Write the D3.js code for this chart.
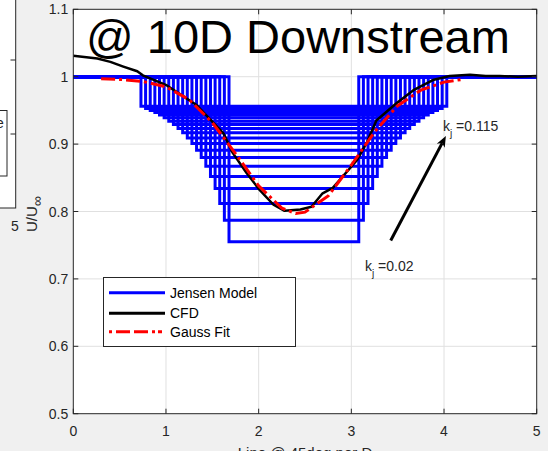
<!DOCTYPE html>
<meta charset="utf-8">
<style>
body { margin: 0; background: #f0f0f0; }
svg { display: block; font-family: "Liberation Sans", Arial, sans-serif; }
.grid line { stroke: #e0e0e0; stroke-width: 1px; }
.tick-label { fill: #262626; font-size: 14px; }
</style>
<script src="https://d3js.org/d3.v7.min.js"></script>
<body>
<svg id="chart"></svg>
<script>

var width = 548,
    height = 451;

// Jensen top-hat profiles, one per wake decay constant k_j
var kj = [0.020, 0.025, 0.030, 0.035, 0.040, 0.045, 0.050, 0.055, 0.060, 0.065,
          0.070, 0.075, 0.080, 0.085, 0.090, 0.095, 0.100, 0.105, 0.110, 0.115];
var jensenLeft  = [1.68, 1.63, 1.58, 1.53, 1.48, 1.43, 1.38, 1.33, 1.28, 1.23,
                   1.18, 1.13, 1.08, 1.03, 0.98, 0.93, 0.88, 0.83, 0.78, 0.73];
var jensenRight = [3.08, 3.13, 3.18, 3.23, 3.28, 3.33, 3.38, 3.43, 3.48, 3.53,
                   3.58, 3.63, 3.68, 3.73, 3.78, 3.83, 3.88, 3.93, 3.98, 4.03];
var jensenLevel = [0.755, 0.787, 0.812, 0.834, 0.852, 0.867, 0.880, 0.891, 0.901, 0.909,
                   0.917, 0.923, 0.929, 0.934, 0.939, 0.943, 0.947, 0.950, 0.953, 0.956];

// CFD profile
var cfdX = [0, 0.26, 0.40, 0.54, 0.69, 0.75, 1.01, 1.33, 1.62, 1.72, 1.87, 2.01, 2.16, 2.28,
            2.45, 2.57, 2.69, 2.80, 3.06, 3.17, 3.27, 3.49, 3.67, 3.88, 4.06, 4.28, 4.45, 4.60, 4.80, 5.0];
var cfdY = [1.031, 1.027, 1.022, 1.015, 1.008, 1.002, 0.987, 0.958, 0.916, 0.887, 0.857, 0.832, 0.810, 0.801,
            0.803, 0.807, 0.827, 0.835, 0.876, 0.903, 0.935, 0.961, 0.980, 0.995, 1.001, 1.003, 1.001, 1.001, 1.000, 1.001];

// Gauss fit
var gaussX = [0.3, 0.5, 0.75, 1.0, 1.25, 1.5, 1.75, 2.0, 2.25, 2.4, 2.5, 2.75, 3.0, 3.25, 3.5, 3.75, 4.0, 4.2];
var gaussY = [0.997, 0.996, 0.993, 0.985, 0.966, 0.932, 0.886, 0.838, 0.805, 0.797, 0.799, 0.823, 0.869, 0.918, 0.957, 0.980, 0.992, 0.996];

var xTicks = [0, 1, 2, 3, 4, 5];
var yTicks = [0.5, 0.6, 0.7, 0.8, 0.9, 1.0, 1.1];
var yTickLabels = ["0.5", "0.6", "0.7", "0.8", "0.9", "1", "1.1"];

var legendNames = ["Jensen Model", "CFD", "Gauss Fit"];

var svg = d3.select("#chart")
    .attr("width", width)
    .attr("height", height);

svg.append("rect").attr("width", width).attr("height", height).attr("fill", "#f0f0f0");

// piece of the neighbouring subplot on the left
var nb = svg.append("g");
nb.append("rect").attr("x", -2).attr("y", -2).attr("width", 17.7).attr("height", 210)
    .attr("fill", "#fff").attr("stroke", "#262626").attr("stroke-width", 1);
[60, 134].forEach(function(y) {
  nb.append("line").attr("x1", 10.5).attr("x2", 15.7).attr("y1", y).attr("y2", y)
      .attr("stroke", "#262626");
});
nb.append("rect").attr("x", -10).attr("y", 110.5).attr("width", 17).attr("height", 65.5)
    .attr("fill", "#fff").attr("stroke", "#262626").attr("stroke-width", 1);
nb.append("text").attr("x", -4).attr("y", 128).attr("class", "tick-label").text("e");
nb.append("text").attr("x", 15).attr("y", 231).attr("text-anchor", "middle")
    .attr("class", "tick-label").text("5");

var x = d3.scaleLinear().domain([0, 5]).range([73.3, 536.7]);
var y = d3.scaleLinear().domain([0.5, 1.1]).range([413.7, 9.3]);

svg.append("rect")
    .attr("x", x(0)).attr("y", y(1.1))
    .attr("width", x(5) - x(0)).attr("height", y(0.5) - y(1.1))
    .attr("fill", "#fff");

svg.append("clipPath").attr("id", "plot-clip")
  .append("rect")
    .attr("x", x(0)).attr("y", y(1.1))
    .attr("width", x(5) - x(0)).attr("height", y(0.5) - y(1.1));

// grid
var grid = svg.append("g").attr("class", "grid");
grid.selectAll(".gx").data(xTicks.slice(1, -1)).enter().append("line")
    .attr("x1", function(d) { return x(d); }).attr("x2", function(d) { return x(d); })
    .attr("y1", y(0.5)).attr("y2", y(1.1));
grid.selectAll(".gy").data(yTicks.slice(1, -1)).enter().append("line")
    .attr("y1", function(d) { return y(d); }).attr("y2", function(d) { return y(d); })
    .attr("x1", x(0)).attr("x2", x(5));

var line = d3.line()
    .x(function(d) { return x(d[0]); })
    .y(function(d) { return y(d[1]); });

var plot = svg.append("g").attr("clip-path", "url(#plot-clip)");

var jensenData = kj.map(function(k, i) {
  return [[0, 1], [jensenLeft[i], 1], [jensenLeft[i], jensenLevel[i]],
          [jensenRight[i], jensenLevel[i]], [jensenRight[i], 1], [5, 1]];
});

plot.selectAll(".jensen").data(jensenData).enter().append("path")
    .attr("class", "jensen")
    .attr("d", line)
    .attr("fill", "none")
    .attr("stroke", "#0000ff")
    .attr("stroke-width", 3);

plot.append("path")
    .attr("d", line(cfdX.map(function(d, i) { return [d, cfdY[i]]; })))
    .attr("fill", "none")
    .attr("stroke", "#000")
    .attr("stroke-width", 2.5)
    .attr("stroke-linejoin", "round");

plot.append("path")
    .attr("d", line(gaussX.map(function(d, i) { return [d, gaussY[i]]; })))
    .attr("fill", "none")
    .attr("stroke", "#ff0000")
    .attr("stroke-width", 3)
    .attr("stroke-dasharray", "14,4,3,4");

// axes box and ticks
var ax = svg.append("g").attr("stroke", "#262626").attr("stroke-width", 1);
ax.append("rect")
    .attr("x", x(0)).attr("y", y(1.1))
    .attr("width", x(5) - x(0)).attr("height", y(0.5) - y(1.1))
    .attr("fill", "none");
xTicks.forEach(function(d) {
  ax.append("line").attr("x1", x(d)).attr("x2", x(d)).attr("y1", y(0.5)).attr("y2", y(0.5) - 5);
  ax.append("line").attr("x1", x(d)).attr("x2", x(d)).attr("y1", y(1.1)).attr("y2", y(1.1) + 5);
});
yTicks.forEach(function(d) {
  ax.append("line").attr("y1", y(d)).attr("y2", y(d)).attr("x1", x(0)).attr("x2", x(0) + 5);
  ax.append("line").attr("y1", y(d)).attr("y2", y(d)).attr("x1", x(5)).attr("x2", x(5) - 5);
});

svg.selectAll(".xl").data(xTicks).enter().append("text")
    .attr("class", "tick-label")
    .attr("x", function(d) { return x(d); })
    .attr("y", y(0.5) + 22)
    .attr("text-anchor", "middle")
    .text(function(d) { return d; });

svg.selectAll(".yl").data(yTicks).enter().append("text")
    .attr("class", "tick-label")
    .attr("x", x(0) - 5)
    .attr("y", function(d) { return y(d) + 5; })
    .attr("text-anchor", "end")
    .text(function(d, i) { return yTickLabels[i]; });

// title inside the axes
svg.append("text")
    .attr("x", 86)
    .attr("y", 53)
    .style("font-size", "47px")
    .attr("fill", "#000")
    .text("@ 10D Downstream");

// axis labels
var yl = svg.append("text")
    .attr("transform", "translate(37,232) rotate(-90)")
    .attr("fill", "#262626")
    .style("font-size", "15px");
yl.append("tspan").text("U/U");
yl.append("tspan").attr("dy", 5).style("font-size", "14px").text("\u221e");

svg.append("text")
    .attr("x", 305)
    .attr("y", 458)
    .attr("text-anchor", "middle")
    .attr("fill", "#262626")
    .style("font-size", "15px")
    .text("Line @ 45deg per D");

// arrow annotation k_j = 0.02 -> 0.115
var a0 = [x(3.425), y(0.757)],
    a1 = [x(4.02), y(0.912)];
var ang = Math.atan2(a1[1] - a0[1], a1[0] - a0[0]);
var headLen = 11, headW = 4.5;
var back = [a1[0] - headLen * Math.cos(ang), a1[1] - headLen * Math.sin(ang)];
svg.append("line")
    .attr("x1", a0[0]).attr("y1", a0[1])
    .attr("x2", back[0] + 3 * Math.cos(ang)).attr("y2", back[1] + 3 * Math.sin(ang))
    .attr("stroke", "#000").attr("stroke-width", 3);
svg.append("path")
    .attr("d", "M" + a1[0] + "," + a1[1] +
      "L" + (back[0] + headW * Math.sin(ang)) + "," + (back[1] - headW * Math.cos(ang)) +
      "L" + (back[0] + 3 * Math.cos(ang)) + "," + (back[1] + 3 * Math.sin(ang)) +
      "L" + (back[0] - headW * Math.sin(ang)) + "," + (back[1] + headW * Math.cos(ang)) + "Z")
    .attr("fill", "#000");

function kLabel(px, py, val) {
  var t = svg.append("text").attr("x", px).attr("y", py)
      .attr("fill", "#262626").style("font-size", "14px");
  t.append("tspan").text("k");
  t.append("tspan").attr("dy", 6).style("font-size", "10px").text("j");
  t.append("tspan").attr("dy", -6).text(" =" + val);
}
kLabel(443, 131, kj[kj.length - 1]);
kLabel(365, 271, kj[0].toString());

// legend
var lg = svg.append("g");
lg.append("rect")
    .attr("x", 103.5).attr("y", 277.5)
    .attr("width", 192).attr("height", 69)
    .attr("fill", "#fff").attr("stroke", "#262626").attr("stroke-width", 1);
var legendY = [292.7, 313.3, 331.7];
var legendStroke = ["#0000ff", "#000", "#ff0000"];
legendNames.forEach(function(name, i) {
  lg.append("line")
      .attr("x1", 109).attr("x2", 165)
      .attr("y1", legendY[i]).attr("y2", legendY[i])
      .attr("stroke", legendStroke[i])
      .attr("stroke-width", 3)
      .attr("stroke-dasharray", i == 2 ? "3,4,14,4,14,4,3" : null);
  lg.append("text")
      .attr("x", 170).attr("y", legendY[i] + 5)
      .attr("fill", "#000")
      .style("font-size", "14px")
      .text(name);
});

</script>
</body>
